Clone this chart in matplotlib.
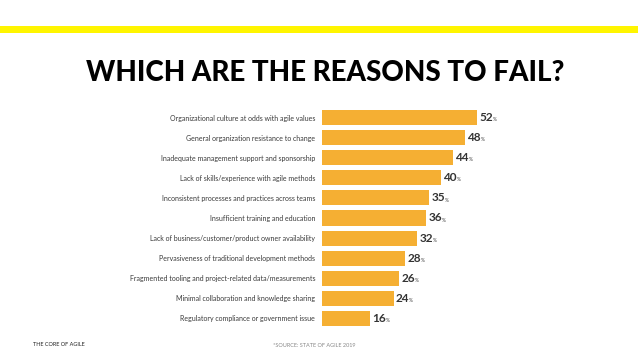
#!/usr/bin/env python3
"""
Bar chart: which are the reasons to fail (State of Agile 2019).
"""

import matplotlib
matplotlib.use('Agg')
import matplotlib.pyplot as plt
from matplotlib.patches import Rectangle

# Data
reasons = [
    'Organizational culture at odds with agile values',
    'General organization resistance to change',
    'Inadequate management support and sponsorship',
    'Lack of skills/experience with agile methods',
    'Inconsistent processes and practices across teams',
    'Insufficient training and education',
    'Lack of business/customer/product owner availability',
    'Pervasiveness of traditional development methods',
    'Fragmented tooling and project-related data/measurements',
    'Minimal collaboration and knowledge sharing',
    'Regulatory compliance or government issue',
]
values = [52, 48, 44, 40, 36, 35, 32, 28, 26, 24, 16]
# printed labels as they appear on the slide (35/36 are swapped there)
value_labels = ['52', '48', '44', '40', '35', '36', '32', '28', '26', '24', '16']

W, H = 638, 359
BAR_COLOR = '#F5AF33'
FONT = 'Lato'


def main():
    fig = plt.figure(figsize=(W / 100, H / 100), dpi=100)
    fig.patch.set_facecolor('white')

    # yellow band across the top
    fig.patches.append(Rectangle((0, 1 - 33 / H), 1, 7 / H, transform=fig.transFigure,
                                 facecolor='#FFF500', edgecolor='none', zorder=0))

    fig.text(325 / W, 1 - 73 / H, 'WHICH ARE THE REASONS TO FAIL?', ha='center', va='center',
             fontsize=20, fontweight='black', family=FONT, color='#000000')

    # bar area: x from 322px to 620px, rows 117.5..318.5px
    ax = fig.add_axes([322 / W, 1 - 328.5 / H, 298 / W, 221 / H])
    y = list(range(len(values)))
    ax.barh(y, values, height=0.75, color=BAR_COLOR, edgecolor='none')
    ax.set_xlim(0, 100)
    ax.set_ylim(len(values) - 0.5, -0.5)

    ax.set_yticks(y)
    ax.set_yticklabels(reasons, fontsize=5, family=FONT, color='#3a3a3a')
    ax.tick_params(axis='y', length=0, pad=5)
    ax.set_xticks([])
    for s in ax.spines.values():
        s.set_visible(False)

    for yi, v, lab in zip(y, values, value_labels):
        num = ax.annotate(lab, xy=(v, yi), xytext=(1.5, 0), textcoords='offset points',
                          ha='left', va='center', fontsize=8.5, fontweight='bold',
                          family=FONT, color='#333333')
        ax.annotate('%', xy=(1, 0.08), xycoords=num, xytext=(0, 0),
                    textcoords='offset points', ha='left', va='bottom',
                    fontsize=3.5, family=FONT, color='#333333')

    # footer
    fig.text(33 / W, 1 - 345 / H, 'THE CORE OF AGILE', ha='left', va='center',
             fontsize=4, family=FONT, color='#222222')
    fig.text(273 / W, 1 - 345.5 / H, '*SOURCE: STATE OF AGILE 2019', ha='left', va='center',
             fontsize=4, family=FONT, color='#888888')

    fig.savefig('out.png', dpi=100)


if __name__ == '__main__':
    main()
